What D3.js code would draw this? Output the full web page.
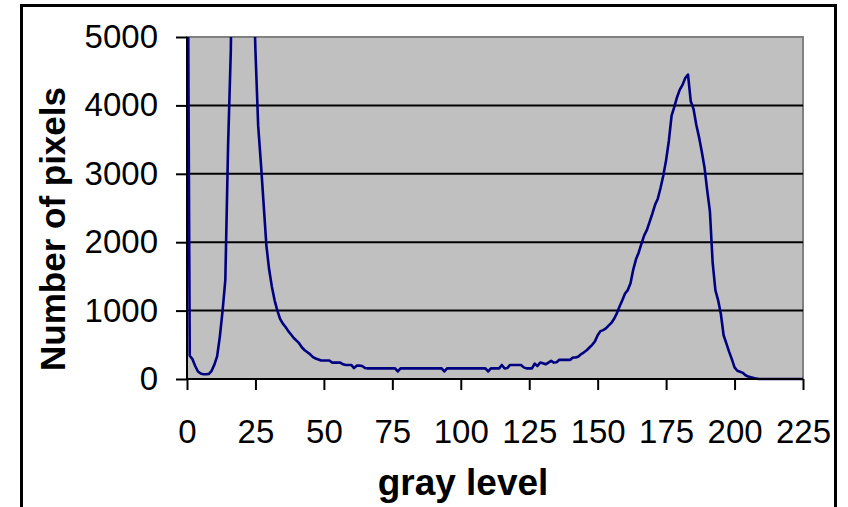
<!DOCTYPE html>
<html>
<head>
<meta charset="utf-8">
<script src="https://cdn.jsdelivr.net/npm/d3@7/dist/d3.min.js"></script>
<style>
  html, body { margin: 0; padding: 0; background: #ffffff; }
  svg { display: block; }
  text { font-family: "Liberation Sans", Arial, sans-serif; fill: #000; }
</style>
</head>
<body>
<svg id="chart" width="848" height="507"></svg>
<script>
// Histogram of gray levels: pixel count for each level 0..225
const pixelCounts = [
  9000, 340, 290, 190, 110, 80, 70, 70, 75, 120,          // 0-9
  210, 330, 620, 1000, 1450, 3400, 4800, 8000, 11000, 13000, // 10-19
  14000, 13000, 11000, 8500, 6200, 4800, 3700, 3150, 2550, 1950, // 20-29
  1600, 1350, 1150, 1000, 880, 810, 760, 700, 650, 600,   // 30-39
  560, 520, 460, 420, 390, 360, 320, 300, 285, 270,       // 40-49
  270, 270, 270, 240, 240, 240, 240, 215, 205, 205,       // 50-59
  205, 160, 195, 195, 190, 160, 155, 155, 155, 155,       // 60-69
  155, 155, 155, 155, 155, 155, 155, 110, 155, 155,       // 70-79
  155, 155, 155, 155, 155, 155, 155, 155, 155, 155,       // 80-89
  155, 155, 155, 155, 110, 155, 155, 155, 155, 155,       // 90-99
  155, 155, 155, 155, 155, 155, 155, 155, 155, 155,       // 100-109
  110, 155, 155, 155, 155, 205, 155, 160, 205, 205,       // 110-119
  205, 205, 205, 170, 155, 155, 155, 225, 190, 240,       // 120-129
  230, 215, 240, 265, 240, 245, 280, 280, 280, 280,       // 130-139
  280, 315, 315, 330, 365, 390, 420, 460, 500, 550,       // 140-149
  640, 700, 715, 740, 780, 820, 880, 960, 1060, 1150,     // 150-159
  1250, 1300, 1400, 1600, 1750, 1850, 1980, 2100, 2180, 2300, // 160-169
  2420, 2550, 2640, 2800, 2980, 3200, 3480, 3850, 3980, 4120, // 170-179
  4230, 4300, 4400, 4450, 4060, 3950, 3720, 3540, 3330, 3100, // 180-189
  2760, 2450, 1700, 1300, 1150, 950, 640, 520, 400, 290,  // 190-199
  170, 120, 105, 90, 55, 35, 25, 15, 5, 0,                // 200-209
  0, 0, 0, 0, 0, 0, 0, 0, 0, 0,                           // 210-219
  0, 0, 0, 0, 0, 0                                        // 220-225
];
const xTicks = [0, 25, 50, 75, 100, 125, 150, 175, 200, 225];
const yTicks = [0, 1000, 2000, 3000, 4000, 5000];
const xTitle = "gray level";
const yTitle = "Number of pixels";

const svg = d3.select("#chart");
const plot = { left: 187, right: 803, top: 37, bottom: 379 };

const x = d3.scaleLinear().domain([0, 225]).range([plot.left, plot.right]);
const y = d3.scaleLinear().domain([0, 5000]).range([plot.bottom, plot.top]);

// outer frame
svg.append("rect")
  .attr("x", 21.5).attr("y", 5.5)
  .attr("width", 814).attr("height", 540)
  .attr("fill", "none").attr("stroke", "#000").attr("stroke-width", 3);

// plot background with gray top/right edges
svg.append("rect")
  .attr("x", plot.left).attr("y", plot.top)
  .attr("width", plot.right - plot.left).attr("height", plot.bottom - plot.top)
  .attr("fill", "#c0c0c0").attr("stroke", "#808080").attr("stroke-width", 2);

// horizontal gridlines
svg.append("g")
  .selectAll("line")
  .data(yTicks.filter(d => d > 0 && d < 5000))
  .join("line")
  .attr("x1", plot.left).attr("x2", plot.right)
  .attr("y1", d => y(d)).attr("y2", d => y(d))
  .attr("stroke", "#000").attr("stroke-width", 2);

// clip so that counts above 5000 are cut at the top of the plot
svg.append("clipPath").attr("id", "plotClip")
  .append("rect")
  .attr("x", plot.left).attr("y", plot.top)
  .attr("width", plot.right - plot.left + 1).attr("height", plot.bottom - plot.top + 2);

const line = d3.line()
  .x((d, i) => x(i))
  .y(d => y(d));

svg.append("path")
  .datum(pixelCounts)
  .attr("clip-path", "url(#plotClip)")
  .attr("d", line)
  .attr("fill", "none")
  .attr("stroke", "#000080")
  .attr("stroke-width", 2.6)
  .attr("stroke-linejoin", "round");

// y axis
const yAxis = d3.axisLeft(y).tickValues(yTicks).tickSize(11).tickPadding(18)
  .tickFormat(d3.format("d"));
const gy = svg.append("g").attr("transform", `translate(${plot.left},0)`).call(yAxis);
gy.select(".domain").remove();
gy.selectAll(".tick line").attr("stroke", "#000").attr("stroke-width", 2);
gy.selectAll(".tick text").attr("font-size", 33).attr("font-family", "Liberation Sans, Arial, sans-serif");
svg.append("line")
  .attr("x1", plot.left).attr("x2", plot.left)
  .attr("y1", plot.top).attr("y2", plot.bottom + 1)
  .attr("stroke", "#000").attr("stroke-width", 2);

// x axis
const xAxis = d3.axisBottom(x).tickValues(xTicks).tickSize(11).tickPadding(30)
  .tickFormat(d3.format("d"));
const gx = svg.append("g").attr("transform", `translate(0,${plot.bottom})`).call(xAxis);
gx.select(".domain").remove();
gx.selectAll(".tick line").attr("stroke", "#000").attr("stroke-width", 2);
gx.selectAll(".tick text").attr("font-size", 33).attr("font-family", "Liberation Sans, Arial, sans-serif");
svg.append("line")
  .attr("x1", plot.left - 1).attr("x2", plot.right)
  .attr("y1", plot.bottom).attr("y2", plot.bottom)
  .attr("stroke", "#000").attr("stroke-width", 2);

// axis titles
svg.append("text")
  .attr("x", 463).attr("y", 495)
  .attr("text-anchor", "middle")
  .attr("font-size", 37).attr("font-weight", "bold")
  .text(xTitle);

svg.append("text")
  .attr("transform", "translate(65,229) rotate(-90)")
  .attr("text-anchor", "middle")
  .attr("font-size", 35).attr("font-weight", "bold")
  .text(yTitle);
</script>
</body>
</html>
